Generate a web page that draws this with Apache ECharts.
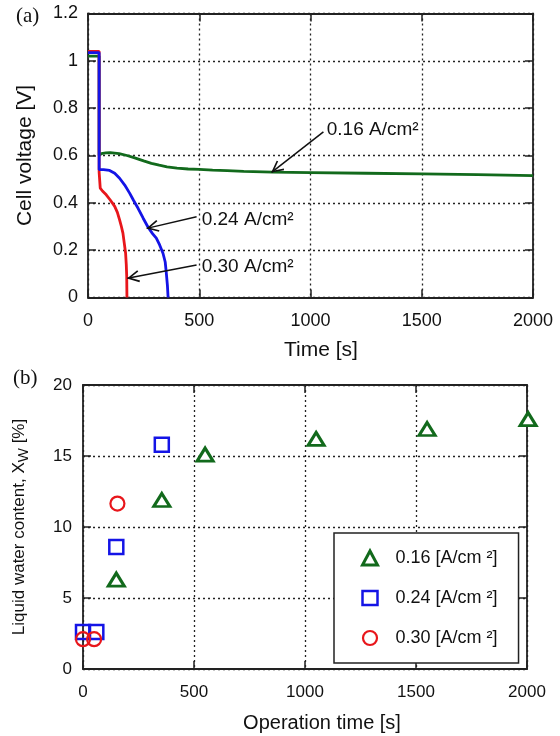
<!DOCTYPE html>
<html>
<head>
<meta charset="utf-8">
<title>Cell voltage / liquid water content</title>
<script src="https://cdn.jsdelivr.net/npm/echarts@6/dist/echarts.min.js"></script>
</head>
<body style="margin:0;background:#fff">
<div id="main" style="width:560px;height:736px;"></div>
<script>
// ---- panel (a): cell voltage [V] vs time [s]
var time016 = [0, 50, 50, 60, 80, 100, 140, 175, 210, 250, 285, 320, 355, 400, 450, 500, 560, 625, 700, 830, 1000, 1250, 1500, 1750, 2000];
var volt016 = [1.02, 1.02, 0.60, 0.608, 0.611, 0.612, 0.608, 0.600, 0.590, 0.577, 0.567, 0.559, 0.552, 0.547, 0.543, 0.541, 0.538, 0.536, 0.533, 0.530, 0.528, 0.525, 0.522, 0.519, 0.515];

var time024 = [0, 50, 50, 70, 97, 120, 142, 165, 187, 205, 225, 248, 270, 290, 307, 322, 337, 347, 352, 357, 360];
var volt024 = [1.035, 1.035, 0.54, 0.54, 0.537, 0.525, 0.504, 0.475, 0.441, 0.41, 0.377, 0.335, 0.297, 0.27, 0.251, 0.222, 0.187, 0.15, 0.103, 0.05, 0];

var time030 = [0, 50, 50, 55, 65, 82, 100, 120, 132, 142, 150, 157, 163, 169, 172, 174, 175];
var volt030 = [1.04, 1.04, 0.53, 0.462, 0.45, 0.434, 0.412, 0.385, 0.36, 0.328, 0.30, 0.272, 0.23, 0.187, 0.14, 0.09, 0];

// ---- panel (b): liquid water content X_W [%] vs operation time [s]
var opTime016 = [150, 355, 550, 1050, 1550, 2005];
var water016 = [6.3, 11.9, 15.1, 16.2, 16.9, 17.6];
var opTime024 = [0, 60, 150, 355];
var water024 = [2.6, 2.6, 8.6, 15.8];
var opTime030 = [0, 50, 155];
var water030 = [2.1, 2.1, 11.65];

var legendNames = ['0.16 [A/cm ²]', '0.24 [A/cm ²]', '0.30 [A/cm ²]'];

// arrows + labels in panel (a), data coordinates
var arrowFrom = [[1058, 0.700], [488, 0.341], [488, 0.137]];
var arrowTo = [[825, 0.529], [264, 0.292], [177, 0.081]];
var noteAt = [[1073, 0.707], [511, 0.327], [511, 0.130]];
var noteText = ['0.16 A/cm²', '0.24 A/cm²', '0.30 A/cm²'];

var GREEN = '#126a1c', BLUE = '#1414e6', RED = '#e8161b', INK = '#222';
var FONT = 'Liberation Sans';

function pairs(xs, ys) {
    return xs.map(function (x, i) { return [x, ys[i]]; });
}

// open arrow head; tip sits at the centre of the symbol box
var ARROW = 'path://M6,-12 L6.01,-12 L6,-11.99 Z M0,12 L6,0 L12,12 L10.6,12.9 L6,3.6 L1.4,12.9 Z';

function axis(grid, pos, min, max, step, labels, fontSize) {
    return {
        type: 'value', gridIndex: grid, position: pos,
        min: min, max: max, interval: step,
        axisLine: { show: true, onZero: false, lineStyle: { color: INK, width: 1.8 } },
        axisTick: { show: true, inside: true, length: 8, lineStyle: { color: INK, width: 1.5 } },
        axisLabel: {
            show: labels, color: '#111', fontFamily: FONT, fontSize: fontSize, margin: 12,
            formatter: function (v) { return String(v); }
        },
        splitLine: { show: labels, lineStyle: { color: INK, width: 1.3, type: [2, 3] } }
    };
}

var chart = echarts.init(document.getElementById('main'));

var xA = axis(0, 'bottom', 0, 2000, 500, true, 18);
xA.name = 'Time [s]';
xA.nameLocation = 'middle';
xA.nameGap = 42;
xA.nameTextStyle = { fontFamily: FONT, fontSize: 21, color: '#111', padding: [0, 0, 0, 21] };
xA.axisLabel.margin = 15;

var yA = axis(0, 'left', 0, 1.2, 0.2, true, 18);
yA.name = 'Cell voltage [V]';
yA.nameLocation = 'middle';
yA.nameGap = 52;
yA.nameTextStyle = { fontFamily: FONT, fontSize: 21, color: '#111' };
yA.axisLabel.margin = 10;

var xB = axis(1, 'bottom', 0, 2000, 500, true, 17);
xB.name = 'Operation time [s]';
xB.nameLocation = 'middle';
xB.nameGap = 44;
xB.nameTextStyle = { fontFamily: FONT, fontSize: 20, color: '#111', padding: [0, 0, 0, 34] };
xB.axisLabel.margin = 15;

var yB = axis(1, 'left', 0, 20, 5, true, 17);
yB.name = '{n|Liquid water content, X}{s|W}{n| [%]}';
yB.nameLocation = 'middle';
yB.nameGap = 52;
yB.nameTextStyle = {
    fontFamily: FONT, color: '#111',
    rich: {
        n: { fontFamily: FONT, fontSize: 17, lineHeight: 24, color: '#111' },
        s: { fontFamily: FONT, fontSize: 15, lineHeight: 15, verticalAlign: 'bottom', color: '#111' }
    }
};
yB.axisLabel.margin = 11;

var arrowLines = arrowFrom.map(function (p, i) {
    return [
        { coord: p, symbol: 'none' },
        { coord: arrowTo[i], symbol: ARROW, symbolSize: [12, 24] }
    ];
});
var notes = noteAt.map(function (p, i) {
    return { coord: p, value: noteText[i] };
});

var option = {
    backgroundColor: '#fff',
    animation: false,
    textStyle: { fontFamily: FONT },
    grid: [
        { left: 88, right: 27, top: 13.5, height: 284 },
        { left: 83, right: 33, top: 385, height: 284 }
    ],
    xAxis: [xA, axis(0, 'top', 0, 2000, 500, false, 18), xB, axis(1, 'top', 0, 2000, 500, false, 17)],
    yAxis: [yA, axis(0, 'right', 0, 1.2, 0.2, false, 18), yB, axis(1, 'right', 0, 20, 5, false, 17)],
    legend: {
        data: [
            { name: legendNames[0], icon: 'triangle', itemStyle: { color: '#fff', borderColor: GREEN, borderWidth: 3 } },
            { name: legendNames[1], icon: 'rect', itemStyle: { color: '#fff', borderColor: BLUE, borderWidth: 2.5 } },
            { name: legendNames[2], icon: 'circle', itemStyle: { color: '#fff', borderColor: RED, borderWidth: 2.2 } }
        ],
        orient: 'vertical',
        left: 334, top: 533,
        padding: [15, 21, 15, 27],
        itemWidth: 15, itemHeight: 14, itemGap: 20,
        borderColor: INK, borderWidth: 1.5,
        backgroundColor: '#fff',
        textStyle: { fontFamily: FONT, fontSize: 18, lineHeight: 20, color: '#111', padding: [0, 0, 0, 13] }
    },
    graphic: [
        { type: 'text', left: 16, top: 6, style: { text: '(a)', font: '21px "Liberation Serif"', fill: '#111' } },
        { type: 'text', left: 13, top: 368, style: { text: '(b)', font: '21px "Liberation Serif"', fill: '#111' } }
    ],
    series: [
        {
            name: 'line016', type: 'line', xAxisIndex: 0, yAxisIndex: 0,
            data: pairs(time016, volt016), showSymbol: false,
            lineStyle: { color: GREEN, width: 2.8 }, itemStyle: { color: GREEN },
            markLine: {
                silent: true, animation: false,
                label: { show: false },
                lineStyle: { color: '#111', width: 1.5, type: 'solid' },
                itemStyle: { color: '#111' },
                emphasis: { disabled: true },
                data: arrowLines
            },
            markPoint: {
                silent: true, animation: false,
                symbol: 'circle', symbolSize: 0,
                label: {
                    show: true, position: 'right', distance: 0,
                    color: '#111', fontFamily: FONT, fontSize: 19,
                    formatter: function (p) { return p.value; }
                },
                data: notes
            }
        },
        {
            name: 'line030', type: 'line', xAxisIndex: 0, yAxisIndex: 0,
            data: pairs(time030, volt030), showSymbol: false,
            lineStyle: { color: RED, width: 2.8 }, itemStyle: { color: RED }
        },
        {
            name: 'line024', type: 'line', xAxisIndex: 0, yAxisIndex: 0,
            data: pairs(time024, volt024), showSymbol: false,
            lineStyle: { color: BLUE, width: 2.8 }, itemStyle: { color: BLUE }
        },
        {
            name: legendNames[0], type: 'scatter', xAxisIndex: 2, yAxisIndex: 2,
            data: pairs(opTime016, water016), clip: false,
            symbol: 'triangle', symbolSize: [16, 13],
            itemStyle: { color: '#fff', borderColor: GREEN, borderWidth: 3, opacity: 1 }
        },
        {
            name: legendNames[1], type: 'scatter', xAxisIndex: 2, yAxisIndex: 2,
            data: pairs(opTime024, water024), clip: false,
            symbol: 'rect', symbolSize: 14,
            itemStyle: { color: 'rgba(255,255,255,0)', borderColor: BLUE, borderWidth: 2.5, opacity: 1 }
        },
        {
            name: legendNames[2], type: 'scatter', xAxisIndex: 2, yAxisIndex: 2,
            data: pairs(opTime030, water030), clip: false,
            symbol: 'circle', symbolSize: 14,
            itemStyle: { color: 'rgba(255,255,255,0)', borderColor: RED, borderWidth: 2.2, opacity: 1 }
        }
    ]
};

chart.setOption(option);
</script>
</body>
</html>
